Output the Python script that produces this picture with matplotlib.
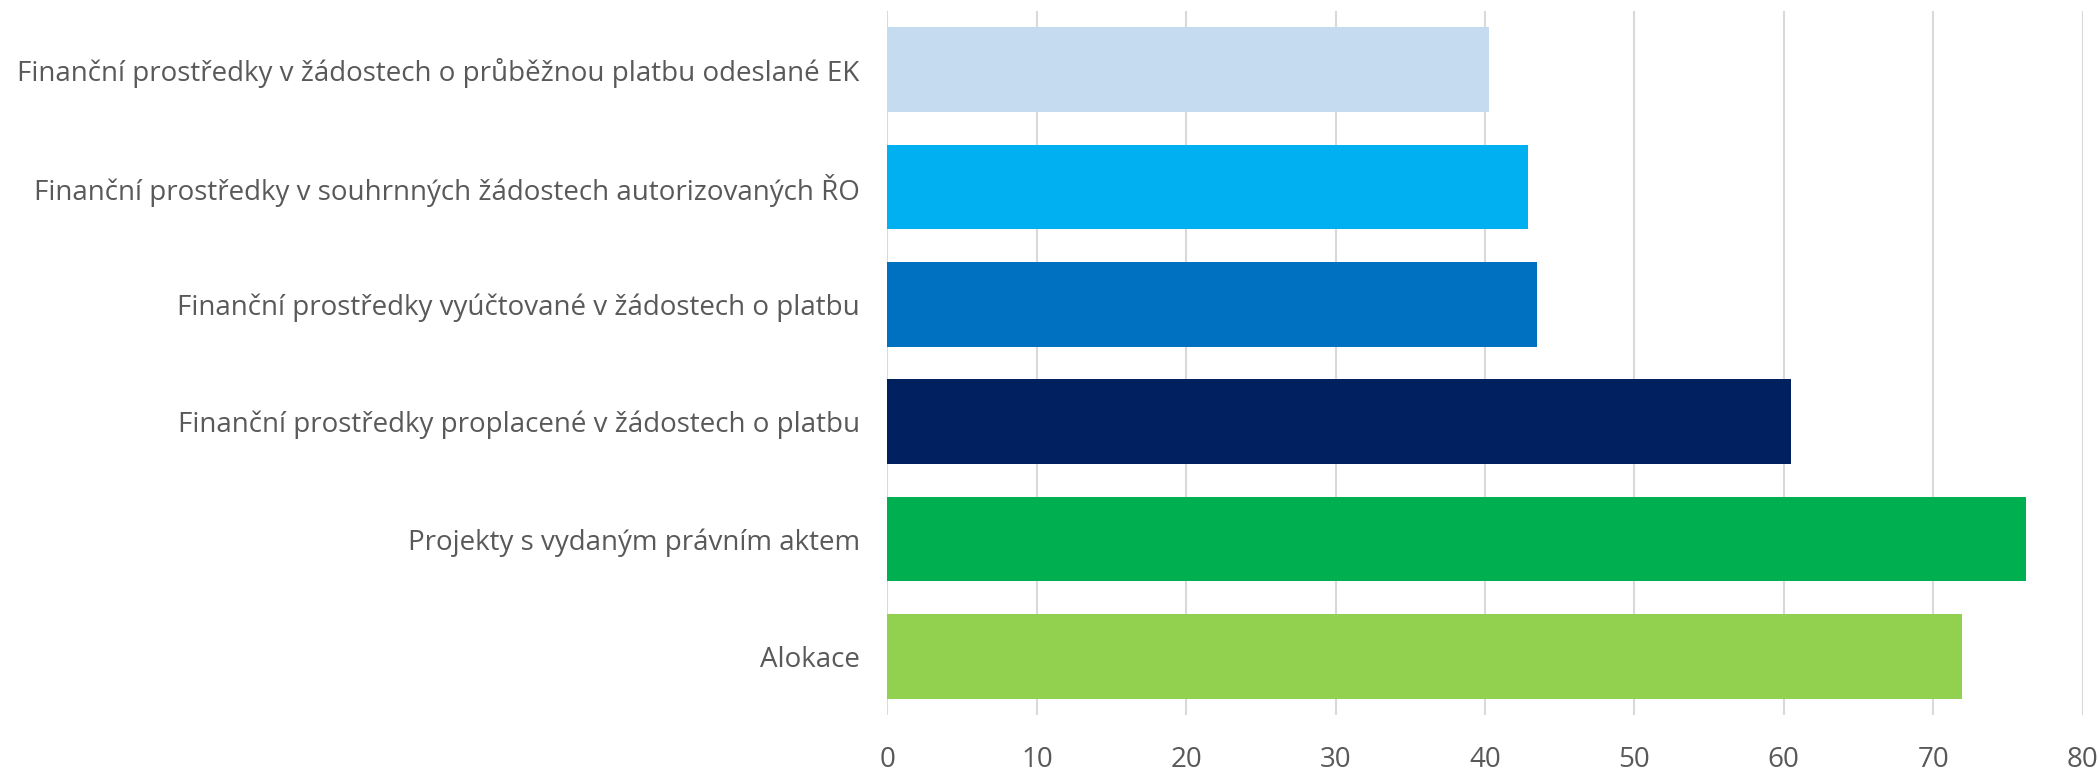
import matplotlib.pyplot as plt

# data, bottom to top
labels = ["Alokace",
          "Projekty s vydaným právním aktem",
          "Finanční prostředky proplacené v žádostech o platbu",
          "Finanční prostředky vyúčtované v žádostech o platbu",
          "Finanční prostředky v souhrnných žádostech autorizovaných ŘO",
          "Finanční prostředky v žádostech o průběžnou platbu odeslané EK"]
values = [71.9, 76.2, 60.45, 43.5, 42.9, 40.3]
colors = ["#92D050", "#00B050", "#002060", "#0070C0", "#00B0F0", "#C5DBF0"]
xticks = [0, 10, 20, 30, 40, 50, 60, 70, 80]

plt.rcParams['font.family'] = ['Open Sans', 'DejaVu Sans']

fig = plt.figure(figsize=(21, 7.71), dpi=100)
ax = fig.add_axes([0.4226, 0.0726, 0.5691, 0.9131])

ax.barh(range(len(labels)), values, height=0.72, color=colors, zorder=2)

ax.set_xlim(0, 80)
ax.set_ylim(-0.5, 5.5)
ax.set_xticks(xticks)
ax.set_yticks(range(len(labels)))
ax.set_yticklabels(labels)
ax.xaxis.grid(True, color="#d9d9d9", linewidth=1.5, zorder=0)
ax.set_axisbelow(True)
for s in ax.spines.values():
    s.set_visible(False)
ax.tick_params(axis='both', length=0, labelsize=20, labelcolor="#595959")
ax.tick_params(axis='y', pad=20)
ax.tick_params(axis='x', pad=22)

fig.savefig("out.png", dpi=100)
